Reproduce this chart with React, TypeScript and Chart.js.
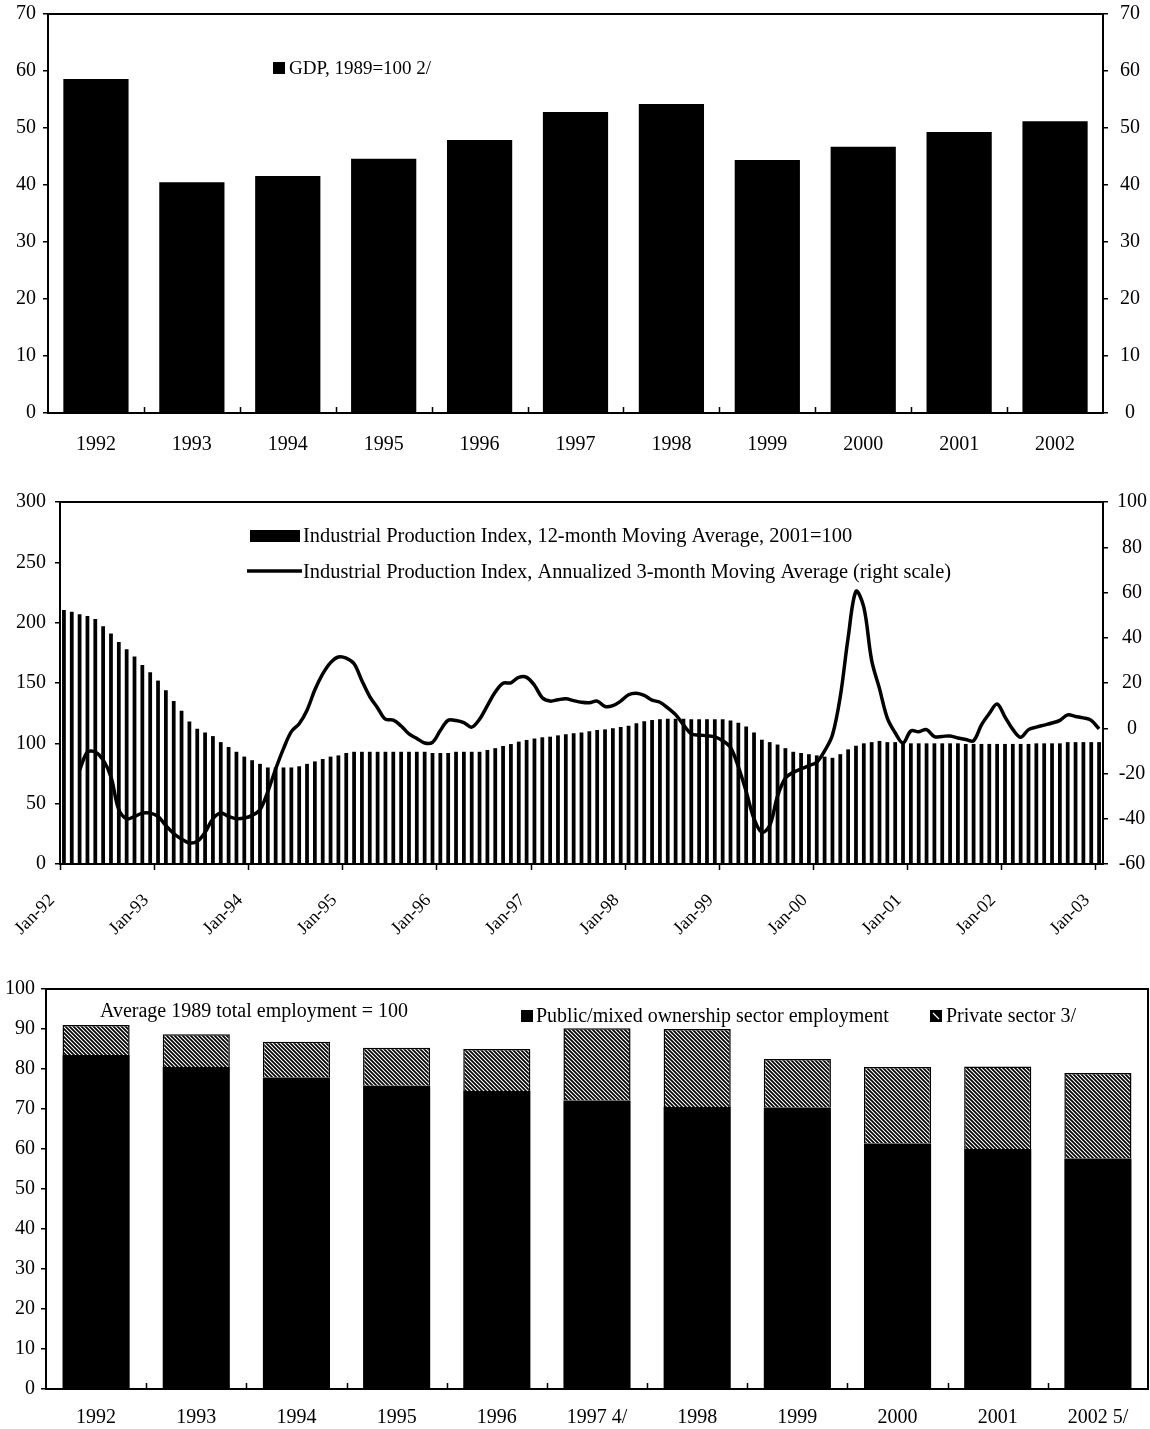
import React, { useEffect, useRef } from 'react';
import { Chart, registerables } from 'chart.js';

Chart.register(...registerables);

const FONT = "'Liberation Serif', 'Times New Roman', serif";

// ---------- Chart 1: GDP ----------
const gdpYears = ['1992', '1993', '1994', '1995', '1996', '1997', '1998', '1999', '2000', '2001', '2002'];
const gdpValues = [58.6, 40.5, 41.6, 44.6, 47.9, 52.8, 54.2, 44.4, 46.7, 49.3, 51.2];

// ---------- Chart 2: Industrial production ----------
const monthNames = ['Jan', 'Feb', 'Mar', 'Apr', 'May', 'Jun', 'Jul', 'Aug', 'Sep', 'Oct', 'Nov', 'Dec'];
const ipMonths: string[] = Array.from({ length: 133 }, (_, i) =>
  `${monthNames[i % 12]}-${String(92 + Math.floor(i / 12)).slice(-2)}`
);
const ipIndex12m = [
  210.5, 209, 207, 205.5, 203, 197, 191, 184, 178, 172,
  165, 159, 152, 144, 135, 127, 118, 112, 109, 106,
  101, 97, 93, 89, 86, 83, 80, 80, 80, 80,
  81, 83, 85, 87, 89, 90, 92, 93, 93, 93,
  93, 93, 93, 93, 93, 93, 93, 92, 92, 92,
  93, 93, 93, 93, 94.5, 96, 97.8, 99.4, 101.4, 102.8,
  104, 105, 105.5, 106.6, 107.5, 108.3, 109, 110, 111, 111.6,
  112.4, 113.5, 114.6, 116.6, 118.2, 119.3, 120, 120.4, 120.4, 120.4,
  120, 120, 120, 120, 120, 119, 117, 114, 109, 103,
  101, 99, 96, 93, 92, 91, 90, 89, 88, 91,
  95, 98, 100, 101, 102, 101, 101, 101, 100, 100,
  100, 100, 100, 100, 100, 99.5, 99.5, 99.5, 99.5, 99.5,
  99.5, 99.5, 99.5, 99.5, 100, 100, 100, 100, 101, 101,
  101, 101, 101,
];
const ipAnnualized3m = [
  null, null, -18.5, -10.5, -10.5, -14, -21.5, -36, -40, -39,
  -37.5, -37.5, -39, -43, -46.5, -49, -50.7, -50, -46, -40,
  -37.5, -39, -40, -39.7, -38.5, -36, -28, -18, -9, -1.5,
  2, 8, 17, 24, 29, 31.5, 31, 28.5, 21, 14,
  9, 4, 3.6, 1, -2.5, -4.5, -6.5, -6.2, -1, 3.5,
  3.4, 2.5, 0.5, 4, 10, 16, 19.9, 20.1, 22.5, 22.5,
  19, 13.5, 12, 12.6, 13, 12.2, 11.5, 11.3, 12, 9.6,
  10, 12, 14.8, 15.5, 14.5, 12.4, 11.5, 9, 6, 1.5,
  -2.5, -3, -3.3, -3.8, -5.5, -8.5, -17, -28, -40, -46,
  -43, -30, -22, -19.5, -18, -16.5, -15, -10, -3, 14,
  40, 60.5, 53.5, 30, 17.5, 4.5, -2, -6.5, -1.2, -1.5,
  -0.6, -3.7, -3.6, -3.4, -4.3, -5, -5.5, 1.5, 6.5, 10.7,
  5, -0.5, -4, -0.6, 0.5, 1.4, 2.3, 3.5, 5.9, 5.2,
  4.6, 3.5, -0.3,
];

// ---------- Chart 3: Employment ----------
const empYears = ['1992', '1993', '1994', '1995', '1996', '1997 4/', '1998', '1999', '2000', '2001', '2002 5/'];
const empPublic = [83.5, 80.5, 77.9, 75.8, 74.5, 72.1, 70.5, 70.4, 61.4, 60, 57.6];
const empPrivate = [7.5, 8.2, 8.9, 9.5, 10.5, 18.1, 19.5, 12.1, 19.1, 20.6, 21.4];

// layout (page pixels)
const PAD_TOP = 30;
const C1 = { areaTop: 14, areaBottom: 413, xAxisH: 50 };
const C2 = { areaTop: 502, areaBottom: 864, xAxisH: 96 };
const C3 = { areaTop: 989, areaBottom: 1389, xAxisH: 40 };

function canvasBox(c: { areaTop: number; areaBottom: number; xAxisH: number }) {
  const top = c.areaTop - PAD_TOP;
  return { top, height: c.areaBottom - top + c.xAxisH };
}

function makeHatch(): CanvasPattern | string {
  const c = document.createElement('canvas');
  c.width = 4;
  c.height = 4;
  const x = c.getContext('2d');
  if (!x) return '#444';
  x.fillStyle = '#000';
  x.fillRect(0, 0, 4, 4);
  x.strokeStyle = '#fff';
  x.lineWidth = 1.1;
  x.beginPath();
  x.moveTo(-1, -1); x.lineTo(5, 5);
  x.moveTo(-1, 3); x.lineTo(1, 5);
  x.moveTo(3, -1); x.lineTo(5, 1);
  x.stroke();
  return x.createPattern(c, 'repeat') || '#444';
}

// Draws the box around the plot area and the small x-axis tick marks.
// mode 'inner': ticks between every category, pointing up into the plot.
// mode 'outer': ticks at the start of every `every`-th category, pointing down.
function framePlugin(mode: 'inner' | 'outer', every = 1) {
  return {
    id: 'frame',
    afterDatasetsDraw(chart: any) {
      const { ctx, chartArea: a } = chart;
      ctx.save();
      ctx.strokeStyle = '#000';
      ctx.lineWidth = 2;
      ctx.strokeRect(a.left, a.top, a.right - a.left, a.bottom - a.top);
      const n = chart.data.labels.length;
      const w = (a.right - a.left) / n;
      ctx.lineWidth = 1.5;
      ctx.beginPath();
      if (mode === 'inner') {
        for (let k = 1; k < n; k++) {
          const x = Math.round(a.left + k * w) + 0.5;
          ctx.moveTo(x, a.bottom);
          ctx.lineTo(x, a.bottom - 6);
        }
      } else {
        for (let k = 0; k < n; k += every) {
          const x = Math.round(a.left + k * w) + 0.5;
          ctx.moveTo(x, a.bottom);
          ctx.lineTo(x, a.bottom + 6);
        }
      }
      ctx.stroke();
      ctx.restore();
    },
  };
}

const tickFont = { family: FONT, size: 20 };
const legendFont = `20px ${FONT}`;
const hiddenGrid = { display: false, drawTicks: false, tickLength: 0 };

function yAxis(extra: any) {
  return {
    grid: { drawOnChartArea: false, drawTicks: true, tickLength: 5, color: '#000', lineWidth: 1.5 },
    border: { display: true, color: '#000', width: 2 },
    ...extra,
  };
}

function ChartBox({ top, height, build }: { top: number; height: number; build: (top: number) => any }) {
  const ref = useRef<HTMLCanvasElement | null>(null);
  useEffect(() => {
    if (!ref.current) return;
    const chart = new Chart(ref.current, build(top));
    return () => chart.destroy();
  }, []);
  return (
    <canvas
      ref={ref}
      width={1150}
      height={height}
      style={{ position: 'absolute', left: 0, top, width: 1150, height, display: 'block' }}
    />
  );
}

const baseOptions = {
  animation: false,
  responsive: false,
  maintainAspectRatio: false,
  layout: { padding: { top: PAD_TOP, left: 0, right: 0, bottom: 0 } },
  plugins: { legend: { display: false }, tooltip: { enabled: false } },
};

function buildGdp(off: number) {
  const legend = {
    id: 'gdpLegend',
    afterDraw(chart: any) {
      const ctx = chart.ctx;
      ctx.save();
      ctx.translate(0, -off);
      ctx.fillStyle = '#000';
      ctx.fillRect(273, 62, 12, 12);
      ctx.font = `19px ${FONT}`;
      ctx.textBaseline = 'middle';
      ctx.fillText('GDP, 1989=100 2/', 289, 69);
      ctx.restore();
    },
  };
  return {
    type: 'bar',
    data: {
      labels: gdpYears,
      datasets: [
        { label: 'GDP, 1989=100 2/', data: gdpValues, backgroundColor: '#000', barPercentage: 0.68, categoryPercentage: 1 },
      ],
    },
    options: {
      ...baseOptions,
      scales: {
        x: {
          grid: hiddenGrid,
          border: { display: true, color: '#000', width: 2 },
          ticks: { color: '#000', font: tickFont, padding: 20 },
          afterFit: (s: any) => { s.height = C1.xAxisH; },
        },
        y: yAxis({
          position: 'left', min: 0, max: 70,
          ticks: { color: '#000', font: tickFont, stepSize: 10, padding: 7 },
          afterFit: (s: any) => { s.width = 48; },
        }),
        y2: yAxis({
          position: 'right', min: 0, max: 70,
          ticks: { color: '#000', font: tickFont, stepSize: 10, padding: 12, crossAlign: 'center' },
          afterFit: (s: any) => { s.width = 47; },
        }),
      },
    },
    plugins: [framePlugin('inner'), legend],
  };
}

function buildIp(off: number) {
  const legend = {
    id: 'ipLegend',
    afterDraw(chart: any) {
      const ctx = chart.ctx;
      ctx.save();
      ctx.translate(0, -off);
      ctx.fillStyle = '#000';
      ctx.fillRect(250, 530, 50, 12);
      ctx.strokeStyle = '#000';
      ctx.lineWidth = 3.5;
      ctx.beginPath();
      ctx.moveTo(247, 571);
      ctx.lineTo(302, 571);
      ctx.stroke();
      ctx.font = `20.4px ${FONT}`;
      ctx.textBaseline = 'middle';
      ctx.fillText('Industrial Production Index, 12-month Moving Average, 2001=100', 303, 537);
      ctx.fillText('Industrial Production Index, Annualized 3-month Moving Average (right scale)', 303, 573);
      ctx.restore();
    },
  };
  return {
    type: 'bar',
    data: {
      labels: ipMonths,
      datasets: [
        {
          type: 'line',
          label: 'Industrial Production Index, Annualized 3-month Moving Average (right scale)',
          data: ipAnnualized3m,
          yAxisID: 'y2',
          borderColor: '#000',
          borderWidth: 3.5,
          pointRadius: 0,
          tension: 0.35,
          spanGaps: false,
          order: 0,
        },
        {
          type: 'bar',
          label: 'Industrial Production Index, 12-month Moving Average, 2001=100',
          data: ipIndex12m,
          yAxisID: 'y',
          backgroundColor: '#000',
          barPercentage: 0.48,
          categoryPercentage: 1,
          order: 1,
        },
      ],
    },
    options: {
      ...baseOptions,
      scales: {
        x: {
          grid: hiddenGrid,
          border: { display: true, color: '#000', width: 2 },
          ticks: {
            color: '#000',
            font: { family: FONT, size: 18 },
            autoSkip: false,
            minRotation: 45,
            maxRotation: 45,
            padding: 26,
            labelOffset: -12,
            callback: (_v: any, i: number) => (i % 12 === 0 ? ipMonths[i] : null),
          },
          afterFit: (s: any) => { s.height = C2.xAxisH; },
        },
        y: yAxis({
          position: 'left', min: 0, max: 300,
          ticks: { color: '#000', font: tickFont, stepSize: 50, padding: 9 },
          afterFit: (s: any) => { s.width = 60; },
        }),
        y2: yAxis({
          position: 'right', min: -60, max: 100,
          ticks: { color: '#000', font: tickFont, stepSize: 20, padding: 9, crossAlign: 'center' },
          afterFit: (s: any) => { s.width = 47; },
        }),
      },
    },
    plugins: [framePlugin('outer', 12), legend],
  };
}

function buildEmp(off: number) {
  const hatch = makeHatch();
  const legend = {
    id: 'empLegend',
    afterDraw(chart: any) {
      const ctx = chart.ctx;
      ctx.save();
      ctx.translate(0, -off);
      ctx.font = legendFont;
      ctx.textBaseline = 'middle';
      ctx.fillStyle = '#000';
      ctx.fillText('Average 1989 total employment = 100', 100, 1012);
      ctx.fillRect(521, 1010, 12, 12);
      ctx.fillText('Public/mixed ownership sector employment', 536, 1017);
      ctx.fillRect(930, 1010, 12, 12);
      ctx.strokeStyle = '#fff';
      ctx.lineWidth = 1.2;
      ctx.beginPath();
      ctx.moveTo(933, 1013);
      ctx.lineTo(939, 1019);
      ctx.stroke();
      ctx.fillStyle = '#000';
      ctx.fillText('Private sector 3/', 946, 1017);
      ctx.restore();
    },
  };
  return {
    type: 'bar',
    data: {
      labels: empYears,
      datasets: [
        {
          label: 'Public/mixed ownership sector employment',
          data: empPublic,
          backgroundColor: '#000',
          barPercentage: 0.67,
          categoryPercentage: 1,
        },
        {
          label: 'Private sector 3/',
          data: empPrivate,
          backgroundColor: hatch,
          borderColor: '#000',
          borderWidth: 1.5,
          barPercentage: 0.67,
          categoryPercentage: 1,
        },
      ],
    },
    options: {
      ...baseOptions,
      layout: { padding: { top: PAD_TOP, left: 0, right: 2, bottom: 0 } },
      scales: {
        x: {
          stacked: true,
          grid: hiddenGrid,
          border: { display: true, color: '#000', width: 2 },
          ticks: { color: '#000', font: tickFont, padding: 17 },
          afterFit: (s: any) => { s.height = C3.xAxisH; },
        },
        y: yAxis({
          stacked: true,
          position: 'left', min: 0, max: 100,
          ticks: { color: '#000', font: tickFont, stepSize: 10, padding: 6 },
          afterFit: (s: any) => { s.width = 46; },
        }),
      },
    },
    plugins: [framePlugin('inner'), legend],
  };
}

export default function App() {
  useEffect(() => {
    document.body.style.margin = '0';
    document.body.style.background = '#fff';
  }, []);
  const b1 = canvasBox(C1);
  const b2 = canvasBox(C2);
  const b3 = canvasBox(C3);
  return (
    <div style={{ position: 'relative', width: 1150, height: 1429, background: '#fff', overflow: 'hidden' }}>
      <ChartBox top={b1.top} height={b1.height} build={buildGdp} />
      <ChartBox top={b2.top} height={b2.height} build={buildIp} />
      <ChartBox top={b3.top} height={b3.height} build={buildEmp} />
    </div>
  );
}
